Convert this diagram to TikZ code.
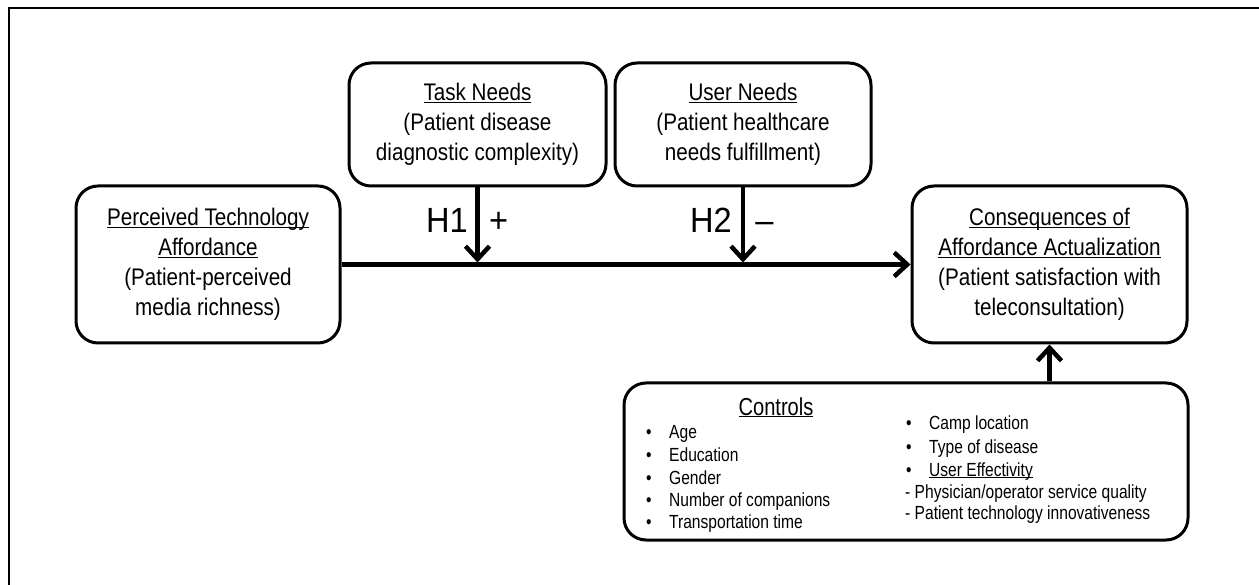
\documentclass[tikz,border=0pt]{standalone}
\usepackage{fontspec}
\setmainfont{Liberation Sans}
\newfontfamily\narrowfont[FakeStretch=0.82]{Liberation Sans}
\newfontfamily\boxfont[FakeStretch=0.86]{Liberation Sans}
\newfontfamily\hfont[FakeStretch=0.93]{Liberation Sans}
\usetikzlibrary{arrows.meta}
\newlength\myulw
\newcommand\myul[1]{\settowidth{\myulw}{#1}\rlap{\rule[-0.1em]{\myulw}{0.06em}}#1}
\begin{document}
\begin{tikzpicture}[x=1pt,y=-1pt,
  box/.style={draw, line width=3pt, rounded corners=22pt, align=center, inner sep=0pt,
    font=\boxfont\fontsize{24}{30}\selectfont},
  conn/.style={line width=4.5pt, -{Straight Barb[length=13pt,width=24pt,line width=4.5pt]}},
  hlab/.style={font=\hfont\fontsize{35}{38}\selectfont, inner sep=0pt},
  ctrl/.style={font=\narrowfont\fontsize{19}{22}\selectfont, inner sep=0pt, anchor=base west},
  frameline/.style={line width=2.5pt}]
\useasboundingbox (0,0) rectangle (1259,585);
\draw[frameline] (9,585) -- (9,8) -- (1259,8);

\node[box, minimum width=257pt, minimum height=123pt] (task) at (477.5,124.5)
  {\myul{Task Needs}\\(Patient disease\\diagnostic complexity)};
\node[box, minimum width=256pt, minimum height=123pt] (user) at (743,124.5)
  {\myul{User Needs}\\(Patient healthcare\\needs fulfillment)};
\node[box, minimum width=264pt, minimum height=157pt] (perc) at (208,264.5)
  {\myul{Perceived Technology}\\\myul{Affordance}\\(Patient-perceived\\media richness)};
\node[box, minimum width=275pt, minimum height=157pt] (cons) at (1049.5,264.5)
  {\myul{Consequences of}\\\myul{Affordance Actualization}\\(Patient satisfaction with\\teleconsultation)};
\node[box, minimum width=564pt, minimum height=157pt] (ctrlbox) at (906,461.5) {};

\draw[conn] (perc.east) -- (cons.west);
\coordinate (j1) at (task.south |- perc.east);
\coordinate (j2) at (user.south |- perc.east);
\draw[conn, shorten >=2pt] (task.south) -- (j1);
\draw[conn, shorten >=2pt] (user.south) -- (j2);
\draw[conn] (ctrlbox.north -| cons.south) -- (cons.south);

\node[hlab, anchor=base east] (h1) at (468,233) {H1};
\node[hlab, anchor=base] (plus) at (498.5,233) {+};
\node[hlab, anchor=base east] (h2) at (732,233) {H2};
\node[hlab, anchor=base] (minus) at (764.5,233) {–};

\node[font=\narrowfont\fontsize{24.5}{28}\selectfont, inner sep=0pt, anchor=base] (ctitle) at (776,415) {\myul{Controls}};

\node[ctrl] (lb1) at (646,438) {•};
\node[ctrl] (lb2) at (646,461) {•};
\node[ctrl] (lb3) at (646,484) {•};
\node[ctrl] (lb4) at (646,506) {•};
\node[ctrl] (lb5) at (646,528) {•};
\node[ctrl] (lt1) at (669,438) {Age};
\node[ctrl] (lt2) at (669,461) {Education};
\node[ctrl] (lt3) at (669,484) {Gender};
\node[ctrl] (lt4) at (669,506) {Number of companions};
\node[ctrl] (lt5) at (669,528) {Transportation time};

\node[ctrl] (rb1) at (906,429) {•};
\node[ctrl] (rb2) at (906,453) {•};
\node[ctrl] (rb3) at (906,476) {•};
\node[ctrl] (rt1) at (929,429) {Camp location};
\node[ctrl] (rt2) at (929,453) {Type of disease};
\node[ctrl] (rt3) at (929,476) {\myul{User Effectivity}};
\node[ctrl] (rd1) at (905,498) {- Physician/operator service quality};
\node[ctrl] (rd2) at (905,519) {- Patient technology innovativeness};
\end{tikzpicture}
\end{document}
